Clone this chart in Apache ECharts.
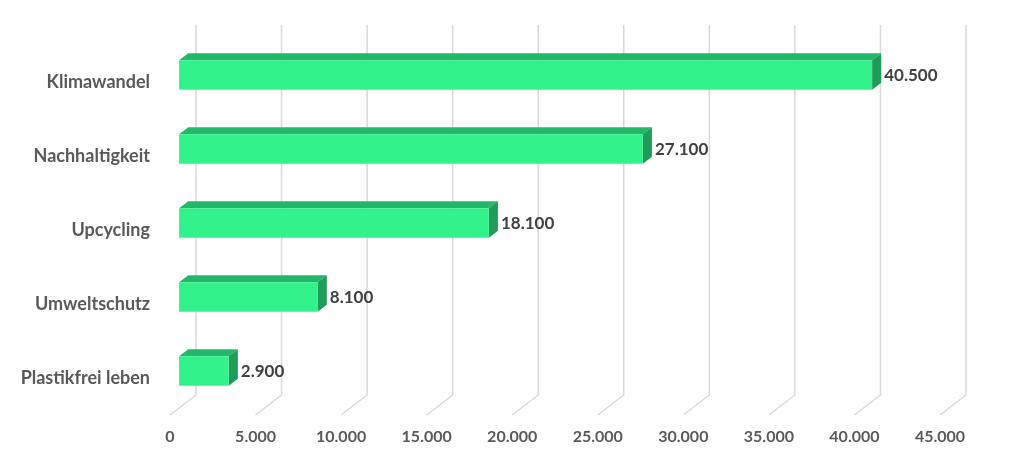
<!DOCTYPE html>
<html><head><meta charset="utf-8">
<script src="https://cdn.jsdelivr.net/npm/echarts@6/dist/echarts.min.js"></script>
<style>html,body{margin:0;padding:0;background:#fff}#c{width:1024px;height:458px}</style>
</head><body><div id="c"></div>
<script>
const categories = ['Klimawandel', 'Nachhaltigkeit', 'Upcycling', 'Umweltschutz', 'Plastikfrei leben'];
const values = [40500, 27100, 18100, 8100, 2900];
const tickValues = [0, 5000, 10000, 15000, 20000, 25000, 30000, 35000, 40000, 45000];

const fmt = v => String(v).replace(/\B(?=(\d{3})+(?!\d))/g, '.');
const DX = -26, DY = 20;           // floor depth vector (back -> front plane)
const FF = 0.65, BF = 0.30;        // bar front/back depth fractions
const FONT = 'Lato, "Open Sans", sans-serif';

const chart = echarts.init(document.getElementById('c'));
chart.setOption({
  animation: false,
  grid: [
    { left: 196, right: 58, top: 25, bottom: 63 },
    { left: 170, right: 84, top: 45, bottom: 43 }
  ],
  xAxis: [
    { gridIndex: 0, type: 'value', min: 0, max: 45000, interval: 5000, show: false },
    { gridIndex: 1, type: 'value', min: 0, max: 45000, interval: 5000,
      axisLine: { show: false }, axisTick: { show: false }, splitLine: { show: false },
      axisLabel: { formatter: v => fmt(v), color: '#595959', fontFamily: FONT, fontWeight: 'bold', fontSize: 16, margin: 14 } }
  ],
  yAxis: [
    { gridIndex: 0, type: 'category', data: categories, inverse: true, show: false },
    { gridIndex: 1, type: 'category', data: categories, inverse: true,
      axisLine: { show: false }, axisTick: { show: false }, splitLine: { show: false },
      axisLabel: { color: '#595959', fontFamily: FONT, fontWeight: 'bold', fontSize: 18, margin: 20 } }
  ],
  series: [
    {
      type: 'custom', xAxisIndex: 0, yAxisIndex: 0, silent: true, z: 1,
      data: tickValues.map(v => [v]),
      renderItem: function (params, api) {
        const cs = params.coordSys;
        const x = api.coord([api.value(0), 0])[0];
        const top = cs.y, bot = cs.y + cs.height;
        return { type: 'polyline', shape: { points: [[x, top], [x, bot], [x + DX, bot + DY]] },
          style: { stroke: '#d9d9d9', lineWidth: 1.5, fill: null } };
      }
    },
    {
      type: 'custom', xAxisIndex: 0, yAxisIndex: 0, silent: true, z: 2,
      data: values.map((v, i) => [v, i]),
      renderItem: function (params, api) {
        const v = api.value(0), c = api.value(1);
        const p0 = api.coord([0, c]), p1 = api.coord([v, c]);
        const h = api.size([0, 1])[1] * 0.4;
        const fx = DX * FF, fy = DY * FF, bx = DX * BF, by = DY * BF;
        const xl = p0[0] + fx, xr = p1[0] + fx, yt = p0[1] + fy - h / 2, yb = p0[1] + fy + h / 2;
        const ox = bx - fx, oy = by - fy;
        return { type: 'group', children: [
          { type: 'polygon', shape: { points: [[xl, yt], [xr, yt], [xr + ox, yt + oy], [xl + ox, yt + oy]] }, style: { fill: '#22b86a' } },
          { type: 'polygon', shape: { points: [[xr, yt], [xr + ox, yt + oy], [xr + ox, yb + oy], [xr, yb]] }, style: { fill: '#1e9c58' } },
          { type: 'rect', shape: { x: xl, y: yt, width: xr - xl, height: yb - yt }, style: { fill: '#31f28b' } },
          { type: 'text', x: xr + ox + 3, y: (yt + yb) / 2 + 1,
            style: { text: fmt(v), fill: '#404040', font: 'bold 17px ' + FONT, verticalAlign: 'middle', align: 'left' } }
        ] };
      }
    }
  ]
});
</script></body></html>
